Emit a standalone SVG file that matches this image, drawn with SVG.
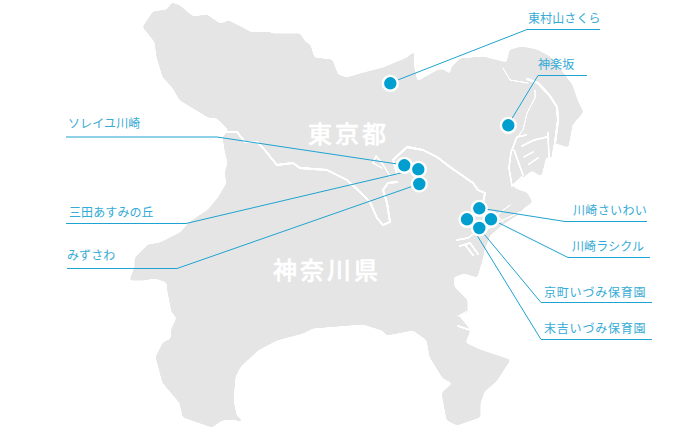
<svg xmlns="http://www.w3.org/2000/svg" width="683" height="428" viewBox="0 0 683 428">
<defs>
<filter id="soft" x="-5%" y="-5%" width="110%" height="110%" color-interpolation-filters="sRGB"><feGaussianBlur stdDeviation="1.6"/><feComponentTransfer><feFuncA type="linear" slope="7" intercept="-3"/></feComponentTransfer></filter>
<filter id="softline" x="-5%" y="-5%" width="110%" height="110%" color-interpolation-filters="sRGB"><feGaussianBlur stdDeviation="0.6"/><feComponentTransfer><feFuncA type="linear" slope="2.5" intercept="-0.2"/></feComponentTransfer></filter>
</defs>
<style>
.land{fill:#e5e5e5;stroke:#e5e5e5;stroke-width:1;filter:url(#soft)}
.riv{fill:none;stroke:#fff;stroke-linecap:round;stroke-linejoin:round}
.lead{fill:none;stroke:#1fa3d0;stroke-width:1}
.dot{fill:#009fd0;stroke:#fff;stroke-width:2.4}
.lab{font-family:"Noto Sans CJK JP","Noto Sans",sans-serif;font-size:12px;fill:#35abd5;letter-spacing:.1px}
.big{font-family:"Noto Sans CJK JP","Noto Sans",sans-serif;font-size:24px;font-weight:500;fill:#fff;stroke:#fff;stroke-width:.5;letter-spacing:3px}
</style>
<g id="map">
<path class="land" d="M172 3 L180 6 L193 17 L207 15 L220 24 L229 21 L252 33 L268 32 L273 34 L300 34 L305 42 L310 45 L314 58 L332 60 L335 68 L338 75 L347 78 L360 74 L383 68 L407 58 L414 52 L413 63 L417 82 L438 70 L444 70 L450 75 L452 67 L460 59 L483 57 L503 62 L507 63 L510 50 L522 47 L537 50 L550 57 L563 73 L572 85 L577 100 L583 112 L572 125 L568 147 L556 143 L553 143 L551 158 L546 156 L541 176 L532 170 L522 178 L511 186 L518 190 L527 193 L532 202 L525 207 L517 215 L503 224 L490 235 L484 250 L482 260 L477 277 L464 273 L453 277 L454 287 L467 300 L467 313 L458 315 L470 330 L465 343 L480 350 L510 360 L497 380 L484 392 L480 403 L480 417 L457 425 L447 420 L442 393 L453 383 L443 378 L430 357 L427 340 L413 330 L387 335 L382 330 L363 324 L350 325 L313 328 L303 333 L277 340 L258 350 L240 367 L235 377 L233 400 L236 415 L243 422 L233 419 L222 420 L212 427 L183 417 L180 403 L163 383 L156 357 L163 343 L171 339 L172 328 L177 318 L172 312 L168 292 L167 282 L155 278 L143 280 L130 280 L135 267 L135 258 L148 245 L160 243 L180 233 L190 222 L208 210 L218 198 L227 183 L225 173 L228 163 L225 150 L223 137 L229 130 L217 118 L208 117 L180 100 L173 88 L163 77 L157 57 L155 42 L143 27 L153 12 L167 10 Z"/>
<g filter="url(#softline)">
<path class="riv" stroke-width="1.8" d="M225 132 L237 132 L245 142 L257 142 L263 148 L277 165 L293 163 L300 168 L327 170 L347 180 L360 192 L370 202 L377 218 L383 225 L390 222 L387 203 L383 190 L388 183 L397 182"/>
<path class="riv" stroke-width="1.8" d="M397 174 L393 160 L407 147 L423 150 L437 157 L450 167 L473 183 L478 190 L485 193 L483 203"/>
<path class="riv" stroke-width="1.2" d="M390 176 L382 163 L376 156 L373 163 L382 168"/>
<path class="riv" stroke-width="2" d="M527 79 L538 83 L550 96 L557 107 L558 120 L555 143"/>
<path class="riv" stroke-width=".8" d="M503 68 L510 80 L528 83 M535 90 L535 98 L527 113 L523 130 L515 140"/>
<path class="riv" stroke-width="1.4" d="M511 152 L517 137 L526 135 M511 152 L509 168 L512 186 L522 177 M514 150 L523 175 M522 146 L534 140 L547 137 M548 133 L549 158 M524 157 L533 152 M529 164 L538 158"/>
<path class="riv" stroke-width="1" d="M486 230 L503 220 L520 212 M497 215 L510 205 M503 222 L495 212"/>
<path class="riv" stroke-width="1.4" d="M457 240 L468 238 L476 232 M460 246 L470 243 L478 254 M466 246 L473 255 M459 316 L466 312 M458 326 L470 330"/>
</g>
<text class="big" x="308" y="143">東京都</text>
<text class="big" x="273" y="279">神奈川県</text>
</g>
<g id="connectors">
<path class="lead" d="M390 83 L527 29.500 H600"/>
<path class="lead" d="M508 125 L538 75.500 H587"/>
<path class="lead" d="M66 137 H217 L404 165"/>
<path class="lead" d="M66 223.500 H186 L418 169"/>
<path class="lead" d="M67 268.500 H177 L419 184"/>
<path class="lead" d="M479 208 L565 221.500 H647"/>
<path class="lead" d="M491 219 L568 257.500 H650"/>
<path class="lead" d="M479 228 L541 302.500 H652"/>
<path class="lead" d="M467 219 L541 339.500 H652"/>
</g>
<g id="n-higashimurayama"><circle class="dot" cx="390.300" cy="83.300" r="7.400"/><text class="lab" x="528" y="23">東村山さくら</text></g>
<g id="n-kagurazaka"><circle class="dot" cx="508.300" cy="125.300" r="7.400"/><text class="lab" x="538" y="69">神楽坂</text></g>
<g id="n-soleil"><circle class="dot" cx="404.300" cy="165.300" r="7.400"/><text class="lab" x="68" y="128">ソレイユ川崎</text></g>
<g id="n-mita"><circle class="dot" cx="418.300" cy="169.300" r="7.400"/><text class="lab" x="69" y="217">三田あすみの丘</text></g>
<g id="n-mizusawa"><circle class="dot" cx="419.300" cy="184" r="7.400"/><text class="lab" x="67" y="260">みずさわ</text></g>
<g id="n-saiwai"><circle class="dot" cx="479.300" cy="208.300" r="7.400"/><text class="lab" x="573" y="215" style="letter-spacing:.35px">川崎さいわい</text></g>
<g id="n-lacicl"><circle class="dot" cx="491" cy="219.300" r="7.400"/><text class="lab" x="572" y="250.500">川崎ラシクル</text></g>
<g id="n-sueyoshi"><circle class="dot" cx="467" cy="219.300" r="7.400"/><text class="lab" x="544" y="333" style="letter-spacing:.8px">末吉いづみ保育園</text></g>
<g id="n-kyomachi"><circle class="dot" cx="479.300" cy="228" r="7.400"/><text class="lab" x="544" y="296.500" style="letter-spacing:.8px">京町いづみ保育園</text></g>
</svg>
